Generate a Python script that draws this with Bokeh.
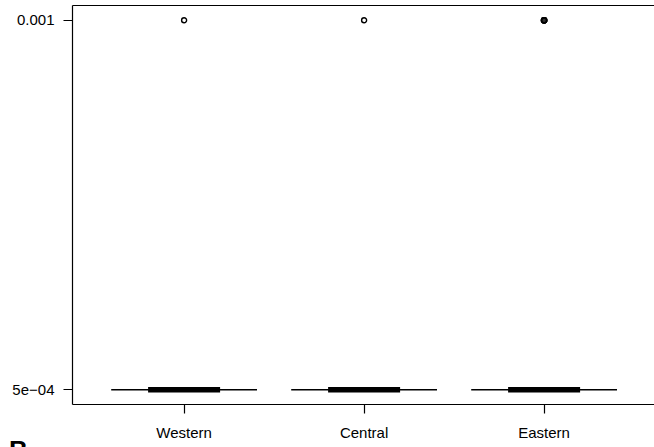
from bokeh.plotting import figure
from bokeh.models import Range1d, FixedTicker, LinearAxis, Div
from bokeh.layouts import column
from bokeh.embed import file_html
from bokeh.resources import INLINE

# ---- data ----
categories = ["Western", "Central", "Eastern"]
medians = [0.0005, 0.0005, 0.0005]
q1 = [0.0005, 0.0005, 0.0005]
q3 = [0.0005, 0.0005, 0.0005]
outliers_open = {"Western": [0.001], "Central": [0.001]}
outliers_dense = {"Eastern": [0.001, 0.001, 0.001]}
y_ticks = [0.0005, 0.001]
y_tick_labels = ["5e\u221204", "0.001"]
panel_letter = "B"

pos = {c: i + 1 for i, c in enumerate(categories)}

FONT = "Liberation Sans"

p = figure(width=654, height=447,
           x_range=Range1d(0.38, 3.6133),
           y_range=Range1d(0.00048, 0.00102),
           output_backend="svg", toolbar_location=None,
           min_border_left=72, min_border_right=0,
           min_border_top=5, min_border_bottom=43,
           x_axis_type=None, y_axis_type=None)
p.outline_line_color = None
p.xgrid.visible = False
p.ygrid.visible = False
p.background_fill_color = "white"
p.border_fill_color = "white"

def style_axis(ax):
    ax.axis_line_color = "black"
    ax.axis_line_width = 1.2
    ax.major_tick_line_color = "black"
    ax.major_tick_line_width = 1.2
    ax.major_tick_in = 0
    ax.major_tick_out = 9
    ax.minor_tick_line_color = None
    ax.major_label_text_font = FONT
    ax.major_label_text_font_size = "15px"
    ax.major_label_text_color = "black"

# left axis
ya = LinearAxis(ticker=FixedTicker(ticks=y_ticks),
                major_label_overrides={t: l for t, l in zip(y_ticks, y_tick_labels)})
style_axis(ya)
ya.major_label_standoff = 9
p.add_layout(ya, "left")

# bottom axis
xa = LinearAxis(ticker=FixedTicker(ticks=[pos[c] for c in categories]),
                major_label_overrides={pos[c]: c for c in categories})
style_axis(xa)
xa.major_label_standoff = 10
p.add_layout(xa, "below")

# top frame line
ta = LinearAxis(ticker=FixedTicker(ticks=[]))
style_axis(ta)
ta.major_tick_out = 0
ta.major_label_text_font_size = "0px"
ta.major_label_standoff = 0
p.add_layout(ta, "above")

# boxes (degenerate)
xs = [pos[c] for c in categories]
p.segment(x0=[x - 0.405 for x in xs], y0=q1, x1=[x + 0.405 for x in xs], y1=q3,
          line_color="black", line_width=1.4)
p.segment(x0=[x - 0.2 for x in xs], y0=medians, x1=[x + 0.2 for x in xs], y1=medians,
          line_color="black", line_width=5.5, line_cap="butt")

# outliers
ox, oy = [], []
for c, vals in outliers_open.items():
    for v in vals:
        ox.append(pos[c]); oy.append(v)
p.scatter(ox, oy, size=5, marker="circle", fill_color="white",
          line_color="black", line_width=1.4)
dx, dy = [], []
for c, vals in outliers_dense.items():
    for v in vals:
        dx.append(pos[c]); dy.append(v)
p.scatter(dx, dy, size=5, marker="circle", fill_color="#333333",
          line_color="black", line_width=1.8)

# panel letter, cut off by the bottom of the window as in the reference
letter = Div(text='<span style="display:block;font:bold 26px \'Liberation Sans\';'
                  'line-height:26px;color:black;margin:0;padding:0">'
                  + panel_letter + '</span>',
             styles={"position": "absolute", "left": "9px", "top": "437px",
                     "height": "10px", "overflow": "hidden", "margin": "0",
                     "padding": "0"})

layout = column(p, letter, spacing=0)

open("out.html", "w").write(file_html(layout, INLINE))
